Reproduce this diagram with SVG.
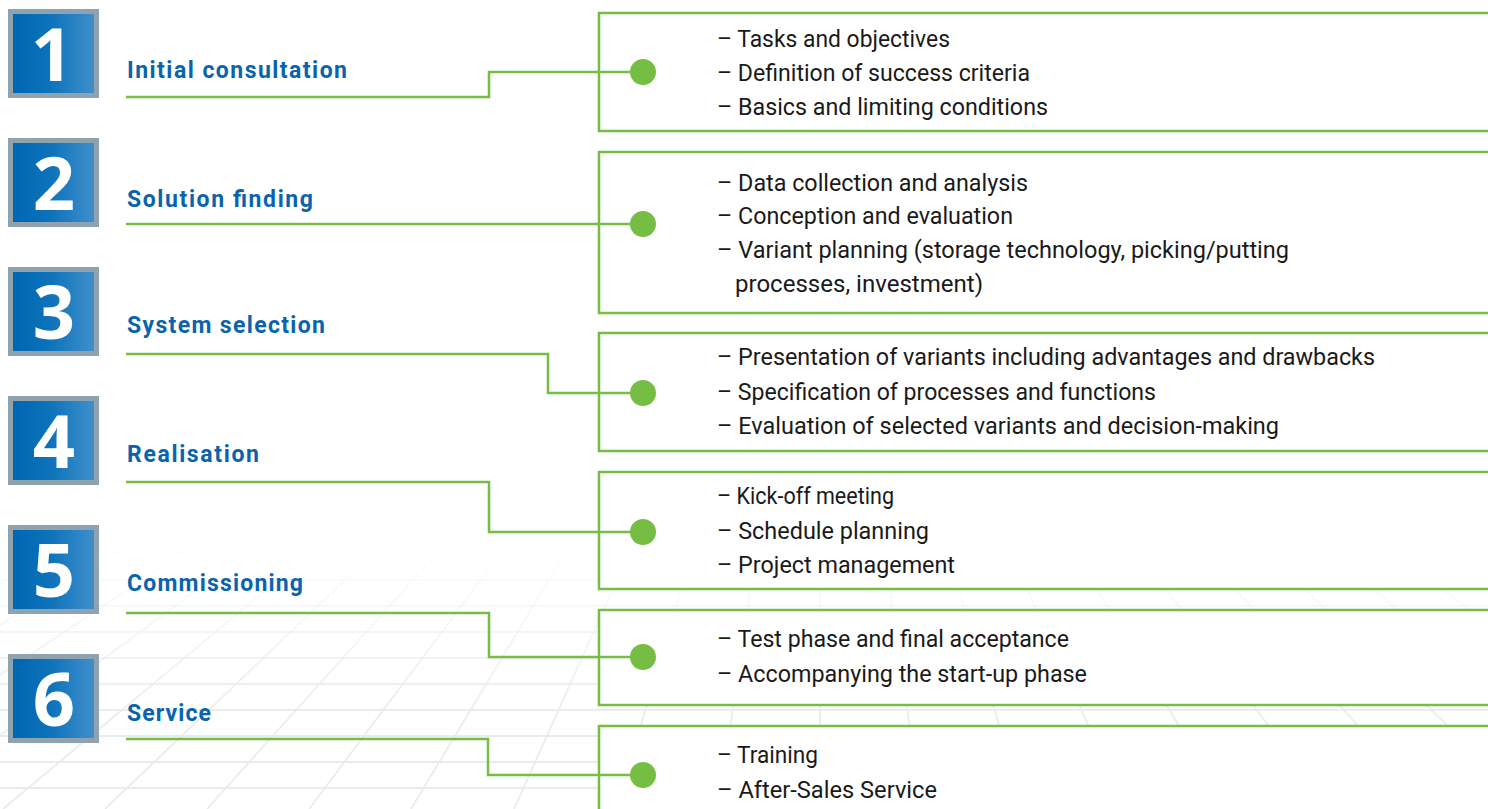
<svg xmlns="http://www.w3.org/2000/svg" width="1488" height="809" viewBox="0 0 1488 809">
<defs>
<linearGradient id="blueGrad" x1="0" y1="0" x2="1" y2="0">
<stop offset="0" stop-color="#0066b2"/>
<stop offset="0.45" stop-color="#0c72ba"/>
<stop offset="1" stop-color="#3f8fcc"/>
</linearGradient>
<linearGradient id="gridGrad" gradientUnits="userSpaceOnUse" x1="0" y1="540" x2="0" y2="720">
<stop offset="0" stop-color="#e9ecef" stop-opacity="0"/>
<stop offset="1" stop-color="#e9ecef" stop-opacity="1"/>
</linearGradient>
<style>
.grid line{stroke:url(#gridGrad);stroke-width:1.8;fill:none}
.frame{fill:#8fa3ae}
.inner{fill:url(#blueGrad)}
.num{font-family:"Open Sans","DejaVu Sans",sans-serif;font-weight:700;font-size:74px;fill:#ffffff;text-anchor:middle}
.title{font-family:Roboto,"Liberation Sans",sans-serif;font-weight:700;font-size:23px;fill:#0a64ad}
.panel{fill:#ffffff;stroke:#76bd43;stroke-width:2.5}
.item{font-family:Roboto,"Liberation Sans",sans-serif;font-weight:400;font-size:23px;fill:#1a1a1a}
.conn{fill:none;stroke:#76bd43;stroke-width:2.5}
.dot{fill:#76bd43}
</style>
</defs>
<rect width="1488" height="809" fill="#ffffff"/>
<g id="background" class="grid">
<line x1="0" y1="554" x2="1488" y2="554"/>
<line x1="0" y1="580" x2="1488" y2="580"/>
<line x1="0" y1="606" x2="1488" y2="606"/>
<line x1="0" y1="632" x2="1488" y2="632"/>
<line x1="0" y1="658" x2="1488" y2="658"/>
<line x1="0" y1="684" x2="1488" y2="684"/>
<line x1="0" y1="710" x2="1488" y2="710"/>
<line x1="0" y1="736" x2="1488" y2="736"/>
<line x1="0" y1="762" x2="1488" y2="762"/>
<line x1="0" y1="788" x2="1488" y2="788"/>
<line x1="-416" y1="540" x2="-1223" y2="809"/>
<line x1="-354" y1="540" x2="-1121" y2="809"/>
<line x1="-292" y1="540" x2="-1019" y2="809"/>
<line x1="-230" y1="540" x2="-916" y2="809"/>
<line x1="-169" y1="540" x2="-814" y2="809"/>
<line x1="-107" y1="540" x2="-712" y2="809"/>
<line x1="-45" y1="540" x2="-610" y2="809"/>
<line x1="17" y1="540" x2="-508" y2="809"/>
<line x1="79" y1="540" x2="-406" y2="809"/>
<line x1="140" y1="540" x2="-303" y2="809"/>
<line x1="202" y1="540" x2="-201" y2="809"/>
<line x1="264" y1="540" x2="-99" y2="809"/>
<line x1="326" y1="540" x2="3" y2="809"/>
<line x1="387" y1="540" x2="105" y2="809"/>
<line x1="449" y1="540" x2="207" y2="809"/>
<line x1="511" y1="540" x2="309" y2="809"/>
<line x1="573" y1="540" x2="411" y2="809"/>
<line x1="635" y1="540" x2="514" y2="809"/>
<line x1="696" y1="540" x2="616" y2="809"/>
<line x1="758" y1="540" x2="718" y2="809"/>
<line x1="820" y1="540" x2="820" y2="809"/>
<line x1="882" y1="540" x2="922" y2="809"/>
<line x1="944" y1="540" x2="1024" y2="809"/>
<line x1="1005" y1="540" x2="1126" y2="809"/>
<line x1="1067" y1="540" x2="1229" y2="809"/>
<line x1="1129" y1="540" x2="1331" y2="809"/>
<line x1="1191" y1="540" x2="1433" y2="809"/>
<line x1="1253" y1="540" x2="1535" y2="809"/>
<line x1="1314" y1="540" x2="1637" y2="809"/>
<line x1="1376" y1="540" x2="1739" y2="809"/>
<line x1="1438" y1="540" x2="1841" y2="809"/>
</g>
<g id="panels">
<rect id="panel1" class="panel" x="599" y="13" width="1000" height="118"/>
<rect id="panel2" class="panel" x="599" y="152" width="1000" height="161"/>
<rect id="panel3" class="panel" x="599" y="333" width="1000" height="118"/>
<rect id="panel4" class="panel" x="599" y="472" width="1000" height="117"/>
<rect id="panel5" class="panel" x="599" y="610" width="1000" height="95"/>
<rect id="panel6" class="panel" x="599" y="726" width="1000" height="200"/>
</g>
<g id="connectors">
<path class="conn" d="M126,97 H489 V72 H643"/>
<path class="conn" d="M126,224 H643"/>
<path class="conn" d="M126,354 H548 V393 H643"/>
<path class="conn" d="M126,482 H489 V532 H643"/>
<path class="conn" d="M126,613 H489 V657 H643"/>
<path class="conn" d="M126,739 H488 V775 H643"/>
<circle class="dot" cx="643" cy="72" r="13"/>
<circle class="dot" cx="643" cy="224" r="13"/>
<circle class="dot" cx="643" cy="393" r="13"/>
<circle class="dot" cx="643" cy="532" r="13"/>
<circle class="dot" cx="643" cy="657" r="13"/>
<circle class="dot" cx="643" cy="775" r="13"/>
</g>
<g id="step1">
<rect class="frame" x="8" y="9" width="91" height="89"/>
<rect class="inner" x="13" y="14" width="81" height="79"/>
<text class="num" x="52" y="81">1</text>
<text class="title" x="127" y="78" textLength="220">Initial consultation</text>
</g>
<g id="step2">
<rect class="frame" x="8" y="138" width="91" height="89"/>
<rect class="inner" x="13" y="143" width="81" height="79"/>
<text class="num" x="54" y="210">2</text>
<text class="title" x="127" y="207" textLength="186">Solution finding</text>
</g>
<g id="step3">
<rect class="frame" x="8" y="267" width="91" height="89"/>
<rect class="inner" x="13" y="272" width="81" height="79"/>
<text class="num" x="54" y="339">3</text>
<text class="title" x="127" y="333" textLength="198">System selection</text>
</g>
<g id="step4">
<rect class="frame" x="8" y="396" width="91" height="89"/>
<rect class="inner" x="13" y="401" width="81" height="79"/>
<text class="num" x="54" y="468">4</text>
<text class="title" x="127" y="462" textLength="132">Realisation</text>
</g>
<g id="step5">
<rect class="frame" x="8" y="525" width="91" height="89"/>
<rect class="inner" x="13" y="530" width="81" height="79"/>
<text class="num" x="54" y="597">5</text>
<text class="title" x="127" y="591" textLength="176">Commissioning</text>
</g>
<g id="step6">
<rect class="frame" x="8" y="654" width="91" height="89"/>
<rect class="inner" x="13" y="659" width="81" height="79"/>
<text class="num" x="54" y="726">6</text>
<text class="title" x="127" y="721" textLength="84">Service</text>
</g>
<g id="details1">
<text class="item" x="717" y="47" textLength="233" lengthAdjust="spacingAndGlyphs">– Tasks and objectives</text>
<text class="item" x="717" y="81" textLength="313" lengthAdjust="spacingAndGlyphs">– Definition of success criteria</text>
<text class="item" x="717" y="115" textLength="331" lengthAdjust="spacingAndGlyphs">– Basics and limiting conditions</text>
</g>
<g id="details2">
<text class="item" x="717" y="191" textLength="311" lengthAdjust="spacingAndGlyphs">– Data collection and analysis</text>
<text class="item" x="717" y="224" textLength="296" lengthAdjust="spacingAndGlyphs">– Conception and evaluation</text>
<text class="item" x="717" y="258" textLength="572" lengthAdjust="spacingAndGlyphs">– Variant planning (storage technology, picking/putting</text>
<text class="item" x="735" y="292" textLength="248" lengthAdjust="spacingAndGlyphs">processes, investment)</text>
</g>
<g id="details3">
<text class="item" x="717" y="365" textLength="658" lengthAdjust="spacingAndGlyphs">– Presentation of variants including advantages and drawbacks</text>
<text class="item" x="717" y="400" textLength="439" lengthAdjust="spacingAndGlyphs">– Specification of processes and functions</text>
<text class="item" x="717" y="434" textLength="562" lengthAdjust="spacingAndGlyphs">– Evaluation of selected variants and decision-making</text>
</g>
<g id="details4">
<text class="item" x="717" y="504" textLength="177" lengthAdjust="spacingAndGlyphs">– Kick-off meeting</text>
<text class="item" x="717" y="539" textLength="212" lengthAdjust="spacingAndGlyphs">– Schedule planning</text>
<text class="item" x="717" y="573" textLength="238" lengthAdjust="spacingAndGlyphs">– Project management</text>
</g>
<g id="details5">
<text class="item" x="717" y="647" textLength="352" lengthAdjust="spacingAndGlyphs">– Test phase and final acceptance</text>
<text class="item" x="717" y="682" textLength="370" lengthAdjust="spacingAndGlyphs">– Accompanying the start-up phase</text>
</g>
<g id="details6">
<text class="item" x="717" y="763" textLength="101" lengthAdjust="spacingAndGlyphs">– Training</text>
<text class="item" x="717" y="798" textLength="220" lengthAdjust="spacingAndGlyphs">– After-Sales Service</text>
</g>
</svg>
